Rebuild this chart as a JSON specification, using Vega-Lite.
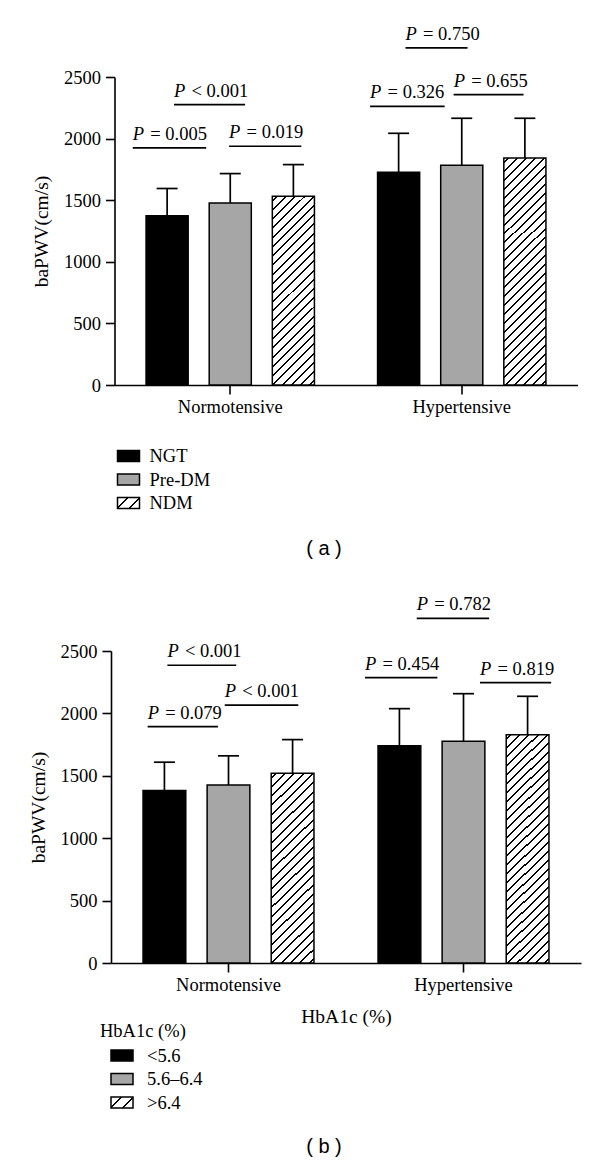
{
  "$schema": "https://vega.github.io/schema/vega-lite/v6.json",
  "background": "white",
  "padding": {"left": 28, "top": 24, "right": 5, "bottom": 5},
  "spacing": 36,
  "center": true,
  "resolve": {"scale": {"x": "independent", "y": "independent", "xOffset": "independent", "fill": "independent"}, "legend": {"fill": "independent"}},
  "params": [
    {"name": "hatchN", "value": {"gradient": "linear", "x1": 0, "y1": 0, "x2": 0.2588, "y2": 1.1647, "stops": [
      {"offset": 0, "color": "white"},
      {"offset": 0.0157, "color": "white"}, {"offset": 0.0157, "color": "black"}, {"offset": 0.0243, "color": "black"}, {"offset": 0.0243, "color": "white"},
      {"offset": 0.0557, "color": "white"}, {"offset": 0.0557, "color": "black"}, {"offset": 0.0643, "color": "black"}, {"offset": 0.0643, "color": "white"},
      {"offset": 0.0957, "color": "white"}, {"offset": 0.0957, "color": "black"}, {"offset": 0.1043, "color": "black"}, {"offset": 0.1043, "color": "white"},
      {"offset": 0.1357, "color": "white"}, {"offset": 0.1357, "color": "black"}, {"offset": 0.1443, "color": "black"}, {"offset": 0.1443, "color": "white"},
      {"offset": 0.1757, "color": "white"}, {"offset": 0.1757, "color": "black"}, {"offset": 0.1843, "color": "black"}, {"offset": 0.1843, "color": "white"},
      {"offset": 0.2157, "color": "white"}, {"offset": 0.2157, "color": "black"}, {"offset": 0.2243, "color": "black"}, {"offset": 0.2243, "color": "white"},
      {"offset": 0.2557, "color": "white"}, {"offset": 0.2557, "color": "black"}, {"offset": 0.2643, "color": "black"}, {"offset": 0.2643, "color": "white"},
      {"offset": 0.2957, "color": "white"}, {"offset": 0.2957, "color": "black"}, {"offset": 0.3043, "color": "black"}, {"offset": 0.3043, "color": "white"},
      {"offset": 0.3357, "color": "white"}, {"offset": 0.3357, "color": "black"}, {"offset": 0.3443, "color": "black"}, {"offset": 0.3443, "color": "white"},
      {"offset": 0.3757, "color": "white"}, {"offset": 0.3757, "color": "black"}, {"offset": 0.3843, "color": "black"}, {"offset": 0.3843, "color": "white"},
      {"offset": 0.4157, "color": "white"}, {"offset": 0.4157, "color": "black"}, {"offset": 0.4243, "color": "black"}, {"offset": 0.4243, "color": "white"},
      {"offset": 0.4557, "color": "white"}, {"offset": 0.4557, "color": "black"}, {"offset": 0.4643, "color": "black"}, {"offset": 0.4643, "color": "white"},
      {"offset": 0.4957, "color": "white"}, {"offset": 0.4957, "color": "black"}, {"offset": 0.5043, "color": "black"}, {"offset": 0.5043, "color": "white"},
      {"offset": 0.5357, "color": "white"}, {"offset": 0.5357, "color": "black"}, {"offset": 0.5443, "color": "black"}, {"offset": 0.5443, "color": "white"},
      {"offset": 0.5757, "color": "white"}, {"offset": 0.5757, "color": "black"}, {"offset": 0.5843, "color": "black"}, {"offset": 0.5843, "color": "white"},
      {"offset": 0.6157, "color": "white"}, {"offset": 0.6157, "color": "black"}, {"offset": 0.6243, "color": "black"}, {"offset": 0.6243, "color": "white"},
      {"offset": 0.6557, "color": "white"}, {"offset": 0.6557, "color": "black"}, {"offset": 0.6643, "color": "black"}, {"offset": 0.6643, "color": "white"},
      {"offset": 0.6957, "color": "white"}, {"offset": 0.6957, "color": "black"}, {"offset": 0.7043, "color": "black"}, {"offset": 0.7043, "color": "white"},
      {"offset": 0.7357, "color": "white"}, {"offset": 0.7357, "color": "black"}, {"offset": 0.7443, "color": "black"}, {"offset": 0.7443, "color": "white"},
      {"offset": 0.7757, "color": "white"}, {"offset": 0.7757, "color": "black"}, {"offset": 0.7843, "color": "black"}, {"offset": 0.7843, "color": "white"},
      {"offset": 0.8157, "color": "white"}, {"offset": 0.8157, "color": "black"}, {"offset": 0.8243, "color": "black"}, {"offset": 0.8243, "color": "white"},
      {"offset": 0.8557, "color": "white"}, {"offset": 0.8557, "color": "black"}, {"offset": 0.8643, "color": "black"}, {"offset": 0.8643, "color": "white"},
      {"offset": 0.8957, "color": "white"}, {"offset": 0.8957, "color": "black"}, {"offset": 0.9043, "color": "black"}, {"offset": 0.9043, "color": "white"},
      {"offset": 0.9357, "color": "white"}, {"offset": 0.9357, "color": "black"}, {"offset": 0.9443, "color": "black"}, {"offset": 0.9443, "color": "white"},
      {"offset": 0.9757, "color": "white"}, {"offset": 0.9757, "color": "black"}, {"offset": 0.9843, "color": "black"}, {"offset": 0.9843, "color": "white"},
      {"offset": 1, "color": "white"}
    ]}},
    {"name": "hatchH", "value": {"gradient": "linear", "x1": 0, "y1": 0, "x2": 0.2115, "y2": 1.1456, "stops": [
      {"offset": 0, "color": "white"},
      {"offset": 0.0130, "color": "white"}, {"offset": 0.0130, "color": "black"}, {"offset": 0.0204, "color": "black"}, {"offset": 0.0204, "color": "white"},
      {"offset": 0.0463, "color": "white"}, {"offset": 0.0463, "color": "black"}, {"offset": 0.0537, "color": "black"}, {"offset": 0.0537, "color": "white"},
      {"offset": 0.0796, "color": "white"}, {"offset": 0.0796, "color": "black"}, {"offset": 0.0870, "color": "black"}, {"offset": 0.0870, "color": "white"},
      {"offset": 0.1130, "color": "white"}, {"offset": 0.1130, "color": "black"}, {"offset": 0.1204, "color": "black"}, {"offset": 0.1204, "color": "white"},
      {"offset": 0.1463, "color": "white"}, {"offset": 0.1463, "color": "black"}, {"offset": 0.1537, "color": "black"}, {"offset": 0.1537, "color": "white"},
      {"offset": 0.1796, "color": "white"}, {"offset": 0.1796, "color": "black"}, {"offset": 0.1870, "color": "black"}, {"offset": 0.1870, "color": "white"},
      {"offset": 0.2130, "color": "white"}, {"offset": 0.2130, "color": "black"}, {"offset": 0.2204, "color": "black"}, {"offset": 0.2204, "color": "white"},
      {"offset": 0.2463, "color": "white"}, {"offset": 0.2463, "color": "black"}, {"offset": 0.2537, "color": "black"}, {"offset": 0.2537, "color": "white"},
      {"offset": 0.2796, "color": "white"}, {"offset": 0.2796, "color": "black"}, {"offset": 0.2870, "color": "black"}, {"offset": 0.2870, "color": "white"},
      {"offset": 0.3130, "color": "white"}, {"offset": 0.3130, "color": "black"}, {"offset": 0.3204, "color": "black"}, {"offset": 0.3204, "color": "white"},
      {"offset": 0.3463, "color": "white"}, {"offset": 0.3463, "color": "black"}, {"offset": 0.3537, "color": "black"}, {"offset": 0.3537, "color": "white"},
      {"offset": 0.3796, "color": "white"}, {"offset": 0.3796, "color": "black"}, {"offset": 0.3870, "color": "black"}, {"offset": 0.3870, "color": "white"},
      {"offset": 0.4130, "color": "white"}, {"offset": 0.4130, "color": "black"}, {"offset": 0.4204, "color": "black"}, {"offset": 0.4204, "color": "white"},
      {"offset": 0.4463, "color": "white"}, {"offset": 0.4463, "color": "black"}, {"offset": 0.4537, "color": "black"}, {"offset": 0.4537, "color": "white"},
      {"offset": 0.4796, "color": "white"}, {"offset": 0.4796, "color": "black"}, {"offset": 0.4870, "color": "black"}, {"offset": 0.4870, "color": "white"},
      {"offset": 0.5130, "color": "white"}, {"offset": 0.5130, "color": "black"}, {"offset": 0.5204, "color": "black"}, {"offset": 0.5204, "color": "white"},
      {"offset": 0.5463, "color": "white"}, {"offset": 0.5463, "color": "black"}, {"offset": 0.5537, "color": "black"}, {"offset": 0.5537, "color": "white"},
      {"offset": 0.5796, "color": "white"}, {"offset": 0.5796, "color": "black"}, {"offset": 0.5870, "color": "black"}, {"offset": 0.5870, "color": "white"},
      {"offset": 0.6130, "color": "white"}, {"offset": 0.6130, "color": "black"}, {"offset": 0.6204, "color": "black"}, {"offset": 0.6204, "color": "white"},
      {"offset": 0.6463, "color": "white"}, {"offset": 0.6463, "color": "black"}, {"offset": 0.6537, "color": "black"}, {"offset": 0.6537, "color": "white"},
      {"offset": 0.6796, "color": "white"}, {"offset": 0.6796, "color": "black"}, {"offset": 0.6870, "color": "black"}, {"offset": 0.6870, "color": "white"},
      {"offset": 0.7130, "color": "white"}, {"offset": 0.7130, "color": "black"}, {"offset": 0.7204, "color": "black"}, {"offset": 0.7204, "color": "white"},
      {"offset": 0.7463, "color": "white"}, {"offset": 0.7463, "color": "black"}, {"offset": 0.7537, "color": "black"}, {"offset": 0.7537, "color": "white"},
      {"offset": 0.7796, "color": "white"}, {"offset": 0.7796, "color": "black"}, {"offset": 0.7870, "color": "black"}, {"offset": 0.7870, "color": "white"},
      {"offset": 0.8130, "color": "white"}, {"offset": 0.8130, "color": "black"}, {"offset": 0.8204, "color": "black"}, {"offset": 0.8204, "color": "white"},
      {"offset": 0.8463, "color": "white"}, {"offset": 0.8463, "color": "black"}, {"offset": 0.8537, "color": "black"}, {"offset": 0.8537, "color": "white"},
      {"offset": 0.8796, "color": "white"}, {"offset": 0.8796, "color": "black"}, {"offset": 0.8870, "color": "black"}, {"offset": 0.8870, "color": "white"},
      {"offset": 0.9130, "color": "white"}, {"offset": 0.9130, "color": "black"}, {"offset": 0.9204, "color": "black"}, {"offset": 0.9204, "color": "white"},
      {"offset": 0.9463, "color": "white"}, {"offset": 0.9463, "color": "black"}, {"offset": 0.9537, "color": "black"}, {"offset": 0.9537, "color": "white"},
      {"offset": 0.9796, "color": "white"}, {"offset": 0.9796, "color": "black"}, {"offset": 0.9870, "color": "black"}, {"offset": 0.9870, "color": "white"},
      {"offset": 1, "color": "white"}
    ]}},
    {"name": "hatchL", "value": {"gradient": "linear", "x1": 0, "y1": 0, "x2": 1.2, "y2": 0.6, "stops": [
      {"offset": 0, "color": "white"},
      {"offset": 0.30, "color": "white"}, {"offset": 0.30, "color": "black"}, {"offset": 0.36, "color": "black"}, {"offset": 0.36, "color": "white"},
      {"offset": 0.64, "color": "white"}, {"offset": 0.64, "color": "black"}, {"offset": 0.70, "color": "black"}, {"offset": 0.70, "color": "white"},
      {"offset": 1, "color": "white"}
    ]}}
  ],
  "config": {
    "view": {"stroke": null},
    "font": "Liberation Serif",
    "axis": {"domainColor": "black", "domainWidth": 1.6, "tickColor": "black", "tickWidth": 1.6, "labelColor": "black", "labelFont": "Liberation Serif", "labelFontSize": 18.5, "titleFont": "Liberation Serif", "titleFontSize": 19.5, "titleFontWeight": "normal", "titleColor": "black", "grid": false},
    "axisX": {"tickSize": 9, "labelPadding": 3, "labelAngle": 0, "titlePadding": 14},
    "axisY": {"tickSize": 9, "labelPadding": 5, "titlePadding": 12, "format": "d"},
    "legend": {"labelFont": "Liberation Serif", "labelFontSize": 18.5, "labelColor": "black", "titleFont": "Liberation Serif", "titleFontSize": 18.5, "titleFontWeight": "normal", "titleColor": "black", "symbolType": "M-1,-0.5H1V0.5H-1Z", "symbolSize": 484, "symbolStrokeColor": "black", "symbolStrokeWidth": 1.5, "symbolOpacity": 1, "rowPadding": 1.5, "orient": "none", "direction": "vertical"},
    "title": {"font": "Liberation Sans", "fontSize": 20, "fontWeight": "normal", "color": "black"}
  },
  "vconcat": [
    {
      "width": 463,
      "height": 308,
      "title": {"text": "( a )", "orient": "bottom", "anchor": "middle", "frame": "group", "dx": -22, "offset": 26},
      "layer": [
        {
          "data": {"values": [
            {"group": "Normotensive", "cat": "NGT", "val": 1373, "upper": 1595},
            {"group": "Normotensive", "cat": "Pre-DM", "val": 1478, "upper": 1716},
            {"group": "Normotensive", "cat": "NDM", "val": 1532, "upper": 1789},
            {"group": "Hypertensive", "cat": "NGT", "val": 1727, "upper": 2043},
            {"group": "Hypertensive", "cat": "Pre-DM", "val": 1784, "upper": 2165},
            {"group": "Hypertensive", "cat": "NDM", "val": 1843, "upper": 2165}
          ]},
          "layer": [
            {
              "mark": {"type": "bar", "stroke": "black", "strokeWidth": 1.5},
              "encoding": {
                "x": {"field": "group", "type": "nominal", "scale": {"type": "band", "domain": ["Normotensive", "Hypertensive"], "paddingInner": 0, "paddingOuter": 0}, "title": null},
                "xOffset": {"field": "cat", "type": "nominal", "scale": {"type": "band", "domain": ["NGT", "Pre-DM", "NDM"], "paddingInner": 0.333, "paddingOuter": 0.5}},
                "y": {"field": "val", "type": "quantitative", "scale": {"domain": [0, 2500], "nice": false}, "axis": {"values": [0, 500, 1000, 1500, 2000, 2500]}, "title": "baPWV(cm/s)"},
                "fill": {
                  "field": "cat", "type": "nominal",
                  "scale": {"domain": ["NGT", "Pre-DM", "NDM"], "range": ["black", "#a6a6a6", {"expr": "hatchL"}]},
                  "condition": [
                    {"test": "datum.cat === 'NDM' && datum.group === 'Normotensive'", "value": {"expr": "hatchN"}},
                    {"test": "datum.cat === 'NDM' && datum.group === 'Hypertensive'", "value": {"expr": "hatchH"}}
                  ],
                  "legend": {"title": null, "legendX": 2, "legendY": 367, "labelOffset": 9, "symbolStrokeColor": "black", "symbolStrokeWidth": 1.5}
                }
              }
            },
            {
              "mark": {"type": "rule", "strokeWidth": 1.7, "color": "black"},
              "encoding": {
                "x": {"field": "group", "type": "nominal", "scale": {"type": "band", "domain": ["Normotensive", "Hypertensive"]}, "title": null},
                "xOffset": {"field": "cat", "type": "nominal", "scale": {"type": "band", "domain": ["NGT", "Pre-DM", "NDM"]}},
                "y": {"field": "val", "type": "quantitative", "scale": {"domain": [0, 2500], "nice": false}, "title": "baPWV(cm/s)"},
                "y2": {"field": "upper"}
              }
            },
            {
              "mark": {"type": "tick", "orient": "horizontal", "size": 21, "thickness": 1.7, "color": "black", "opacity": 1},
              "encoding": {
                "x": {"field": "group", "type": "nominal", "scale": {"type": "band", "domain": ["Normotensive", "Hypertensive"]}, "title": null},
                "xOffset": {"field": "cat", "type": "nominal", "scale": {"type": "band", "domain": ["NGT", "Pre-DM", "NDM"]}},
                "y": {"field": "upper", "type": "quantitative", "scale": {"domain": [0, 2500], "nice": false}, "title": "baPWV(cm/s)"}
              }
            }
          ]
        },
        {
          "data": {"values": [
            {"x1": 0.079, "x2": 0.396, "y": 1925, "rest": "= 0.005"},
            {"x1": 0.495, "x2": 0.807, "y": 1938, "rest": "= 0.019"},
            {"x1": 0.257, "x2": 0.564, "y": 2276, "rest": "< 0.001"},
            {"x1": 1.104, "x2": 1.426, "y": 2262, "rest": "= 0.326"},
            {"x1": 1.465, "x2": 1.767, "y": 2357, "rest": "= 0.655"},
            {"x1": 1.257, "x2": 1.525, "y": 2736, "rest": "= 0.750"}
          ]},
          "layer": [
            {
              "mark": {"type": "rule", "strokeWidth": 1.7, "color": "black"},
              "encoding": {
                "x": {"field": "x1", "type": "quantitative", "scale": {"domain": [0, 2], "nice": false, "zero": false}, "axis": null},
                "x2": {"field": "x2"},
                "y": {"field": "y", "type": "quantitative", "scale": {"domain": [0, 2500], "nice": false}, "title": "baPWV(cm/s)"}
              }
            },
            {
              "mark": {"type": "text", "text": "P", "align": "left", "baseline": "alphabetic", "dy": -8, "fontStyle": "italic", "fontSize": 18.5, "font": "Liberation Serif", "color": "black"},
              "encoding": {
                "x": {"field": "x1", "type": "quantitative", "scale": {"domain": [0, 2], "nice": false, "zero": false}, "axis": null},
                "y": {"field": "y", "type": "quantitative", "scale": {"domain": [0, 2500], "nice": false}, "title": "baPWV(cm/s)"}
              }
            },
            {
              "mark": {"type": "text", "align": "left", "baseline": "alphabetic", "dy": -8, "dx": 17.5, "fontSize": 18.5, "font": "Liberation Serif", "color": "black"},
              "encoding": {
                "x": {"field": "x1", "type": "quantitative", "scale": {"domain": [0, 2], "nice": false, "zero": false}, "axis": null},
                "y": {"field": "y", "type": "quantitative", "scale": {"domain": [0, 2500], "nice": false}, "title": "baPWV(cm/s)"},
                "text": {"field": "rest"}
              }
            }
          ]
        }
      ],
      "resolve": {"scale": {"x": "independent"}}
    },
    {
      "width": 470,
      "height": 312,
      "title": {"text": "( b )", "orient": "bottom", "anchor": "middle", "frame": "group", "dx": -22, "offset": 25},
      "layer": [
        {
          "data": {"values": [
            {"group": "Normotensive", "cat": "<5.6", "val": 1382, "upper": 1609},
            {"group": "Normotensive", "cat": "5.6–6.4", "val": 1427, "upper": 1660},
            {"group": "Normotensive", "cat": ">6.4", "val": 1521, "upper": 1790},
            {"group": "Hypertensive", "cat": "<5.6", "val": 1740, "upper": 2038},
            {"group": "Hypertensive", "cat": "5.6–6.4", "val": 1777, "upper": 2158},
            {"group": "Hypertensive", "cat": ">6.4", "val": 1828, "upper": 2137}
          ]},
          "layer": [
            {
              "mark": {"type": "bar", "stroke": "black", "strokeWidth": 1.5},
              "encoding": {
                "x": {"field": "group", "type": "nominal", "scale": {"type": "band", "domain": ["Normotensive", "Hypertensive"], "paddingInner": 0, "paddingOuter": 0}, "title": "HbA1c (%)"},
                "xOffset": {"field": "cat", "type": "nominal", "scale": {"type": "band", "domain": ["<5.6", "5.6–6.4", ">6.4"], "paddingInner": 0.333, "paddingOuter": 0.5}},
                "y": {"field": "val", "type": "quantitative", "scale": {"domain": [0, 2500], "nice": false}, "axis": {"values": [0, 500, 1000, 1500, 2000, 2500]}, "title": "baPWV(cm/s)"},
                "fill": {
                  "field": "cat", "type": "nominal",
                  "scale": {"domain": ["<5.6", "5.6–6.4", ">6.4"], "range": ["black", "#a6a6a6", {"expr": "hatchL"}]},
                  "condition": [
                    {"test": "datum.cat === '>6.4' && datum.group === 'Normotensive'", "value": {"expr": "hatchN"}},
                    {"test": "datum.cat === '>6.4' && datum.group === 'Hypertensive'", "value": {"expr": "hatchH"}}
                  ],
                  "legend": {"title": "HbA1c (%)", "titlePadding": 3, "legendX": -11, "legendY": 371, "symbolOffset": 10, "labelOffset": 13, "symbolStrokeColor": "black", "symbolStrokeWidth": 1.5}
                }
              }
            },
            {
              "mark": {"type": "rule", "strokeWidth": 1.7, "color": "black"},
              "encoding": {
                "x": {"field": "group", "type": "nominal", "scale": {"type": "band", "domain": ["Normotensive", "Hypertensive"]}, "title": "HbA1c (%)"},
                "xOffset": {"field": "cat", "type": "nominal", "scale": {"type": "band", "domain": ["<5.6", "5.6–6.4", ">6.4"]}},
                "y": {"field": "val", "type": "quantitative", "scale": {"domain": [0, 2500], "nice": false}, "title": "baPWV(cm/s)"},
                "y2": {"field": "upper"}
              }
            },
            {
              "mark": {"type": "tick", "orient": "horizontal", "size": 21, "thickness": 1.7, "color": "black", "opacity": 1},
              "encoding": {
                "x": {"field": "group", "type": "nominal", "scale": {"type": "band", "domain": ["Normotensive", "Hypertensive"]}, "title": "HbA1c (%)"},
                "xOffset": {"field": "cat", "type": "nominal", "scale": {"type": "band", "domain": ["<5.6", "5.6–6.4", ">6.4"]}},
                "y": {"field": "upper", "type": "quantitative", "scale": {"domain": [0, 2500], "nice": false}, "title": "baPWV(cm/s)"}
              }
            }
          ]
        },
        {
          "data": {"values": [
            {"x1": 0.156, "x2": 0.455, "y": 1894, "rest": "= 0.079"},
            {"x1": 0.240, "x2": 0.533, "y": 2386, "rest": "< 0.001"},
            {"x1": 0.484, "x2": 0.797, "y": 2066, "rest": "< 0.001"},
            {"x1": 1.081, "x2": 1.389, "y": 2287, "rest": "= 0.454"},
            {"x1": 1.570, "x2": 1.873, "y": 2247, "rest": "= 0.819"},
            {"x1": 1.301, "x2": 1.609, "y": 2762, "rest": "= 0.782"}
          ]},
          "layer": [
            {
              "mark": {"type": "rule", "strokeWidth": 1.7, "color": "black"},
              "encoding": {
                "x": {"field": "x1", "type": "quantitative", "scale": {"domain": [0, 2], "nice": false, "zero": false}, "axis": null},
                "x2": {"field": "x2"},
                "y": {"field": "y", "type": "quantitative", "scale": {"domain": [0, 2500], "nice": false}, "title": "baPWV(cm/s)"}
              }
            },
            {
              "mark": {"type": "text", "text": "P", "align": "left", "baseline": "alphabetic", "dy": -8, "fontStyle": "italic", "fontSize": 18.5, "font": "Liberation Serif", "color": "black"},
              "encoding": {
                "x": {"field": "x1", "type": "quantitative", "scale": {"domain": [0, 2], "nice": false, "zero": false}, "axis": null},
                "y": {"field": "y", "type": "quantitative", "scale": {"domain": [0, 2500], "nice": false}, "title": "baPWV(cm/s)"}
              }
            },
            {
              "mark": {"type": "text", "align": "left", "baseline": "alphabetic", "dy": -8, "dx": 17.5, "fontSize": 18.5, "font": "Liberation Serif", "color": "black"},
              "encoding": {
                "x": {"field": "x1", "type": "quantitative", "scale": {"domain": [0, 2], "nice": false, "zero": false}, "axis": null},
                "y": {"field": "y", "type": "quantitative", "scale": {"domain": [0, 2500], "nice": false}, "title": "baPWV(cm/s)"},
                "text": {"field": "rest"}
              }
            }
          ]
        }
      ],
      "resolve": {"scale": {"x": "independent"}}
    }
  ]
}
